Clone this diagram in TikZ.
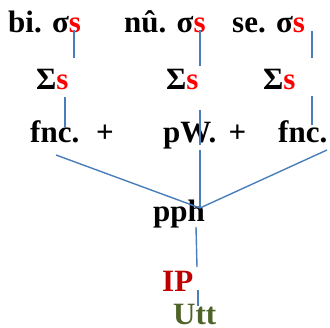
\documentclass[tikz,border=0pt]{standalone}
\usepackage{fontspec}
\setmainfont{Liberation Serif}
\definecolor{lineblue}{HTML}{4A7EBB}
\definecolor{sred}{HTML}{FF0000}
\definecolor{ipred}{HTML}{C00000}
\definecolor{uttgreen}{HTML}{4F6228}
\begin{document}
\begin{tikzpicture}[x=1pt,y=-1pt,
  lbl/.style={inner sep=0pt,anchor=base west,font=\fontsize{31}{31}\selectfont\bfseries},
  conn/.style={draw=lineblue,line width=1.4pt}]
\useasboundingbox (0,0) rectangle (330,328);
% row 1
\node[lbl] (bi) at (8,33) {bi. σ\textcolor{sred}{s}};
\node[lbl] (nu) at (124,33) {nû. σ\textcolor{sred}{s}};
\node[lbl] (se) at (232,33) {se. σ\textcolor{sred}{s}};
% row 2
\node[lbl] (s1) at (36,90) {Σ\textcolor{sred}{s}};
\node[lbl] (s2) at (166,90) {Σ\textcolor{sred}{s}};
\node[lbl] (s3) at (263,90) {Σ\textcolor{sred}{s}};
% row 3
\node[lbl] (f1) at (30,143) {fnc.};
\node[lbl,anchor=base] (p1) at (105,143) {+};
\node[lbl] (pw) at (163,143) {pW.};
\node[lbl,anchor=base] (p2) at (237.5,143) {+};
\node[lbl] (f2) at (278,143) {fnc.};
% lower
\node[lbl] (pph) at (153,222) {pph};
\node[lbl,text=ipred] (ip) at (162,292) {IP};
\node[lbl,text=uttgreen] (utt) at (173,325) {Utt};
% connector ends
\coordinate (a1) at (74,30);  \coordinate (a2) at (74,58);
\coordinate (b1) at (200,30); \coordinate (b2) at (200,66);
\coordinate (c1) at (312,31); \coordinate (c2) at (312,58);
\coordinate (d1) at (65,97);  \coordinate (d2) at (65,127);
\coordinate (e1) at (200,110); \coordinate (e2) at (200,145);
\coordinate (g1) at (312,96); \coordinate (g2) at (312,125);
\coordinate (m) at (200,208);
\coordinate (hl) at (56,155);
\coordinate (hm) at (200,150);
\coordinate (hr) at (327,150);
\coordinate (i1) at (196,227); \coordinate (i2) at (197,267);
\coordinate (j1) at (198,290); \coordinate (j2) at (198,306);
\draw[conn] (a1) -- (a2);
\draw[conn] (b1) -- (b2);
\draw[conn] (c1) -- (c2);
\draw[conn] (d1) -- (d2);
\draw[conn] (e1) -- (e2);
\draw[conn] (g1) -- (g2);
\draw[conn] (hl) -- (m);
\draw[conn] (hm) -- (m);
\draw[conn] (hr) -- (m);
\draw[conn] (i1) -- (i2);
\draw[conn] (j1) -- (j2);
\end{tikzpicture}
\end{document}
